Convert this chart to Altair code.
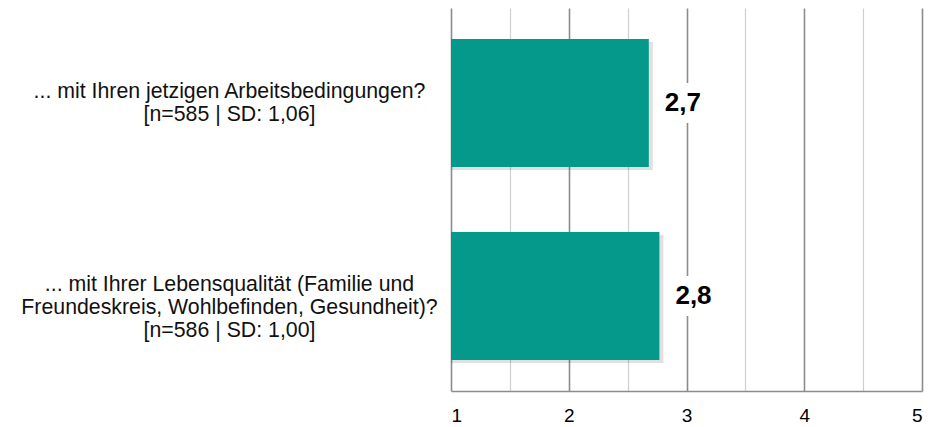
import altair as alt
import pandas as pd

categories = [
    "... mit Ihren jetzigen Arbeitsbedingungen?\n[n=585 | SD: 1,06]",
    "... mit Ihrer Lebensqualität (Familie und\nFreundeskreis, Wohlbefinden, Gesundheit)?\n[n=586 | SD: 1,00]",
]
values = [2.68, 2.77]
value_labels = ["2,7", "2,8"]
x_ticks = [1, 1.5, 2, 2.5, 3, 3.5, 4, 4.5, 5]

df = pd.DataFrame({"cat": categories, "val": values, "lab": value_labels})

FONT = "Liberation Sans"
BAR = "#04998A"

xscale = alt.Scale(domain=[1, 5], zero=False, nice=False)
yscale = alt.Scale(paddingInner=0.337, paddingOuter=0.161)

x_axis = alt.Axis(
    values=x_ticks,
    title=None,
    grid=True,
    gridColor={"condition": {"test": "datum.value % 1 === 0", "value": "#8c8c8c"}, "value": "#cfcfcf"},
    gridWidth={"condition": {"test": "datum.value % 1 === 0", "value": 1.6}, "value": 1.2},
    ticks=False,
    domain=True,
    domainColor="#8c8c8c",
    domainWidth=1.6,
    labelExpr="datum.value % 1 === 0 ? datum.value : ''",
    labelFont=FONT,
    labelFontSize=19,
    labelColor="#000000",
    labelPadding=15,
)
y_axis = alt.Axis(
    title=None,
    domain=False,
    ticks=False,
    tickSize=0,
    grid=False,
    labelExpr="split(datum.value, '\\n')",
    labelAlign="center",
    labelBaseline="middle",
    labelPadding=222,
    labelOffset=-11,
    labelFont=FONT,
    labelFontSize=21.3,
    labelLineHeight=23,
    labelColor="#111111",
    labelLimit=0,
)

base = alt.Chart(df)

shadow = base.mark_bar(color="#000000", opacity=0.12, xOffset=4, yOffset=3).encode(
    x=alt.X("val:Q", scale=xscale, axis=x_axis),
    x2=alt.datum(1),
    y=alt.Y("cat:N", sort=None, scale=yscale, axis=y_axis),
)

bars = base.mark_bar(color=BAR).encode(
    x=alt.X("val:Q", scale=xscale, axis=x_axis),
    x2=alt.datum(1),
    y=alt.Y("cat:N", sort=None, scale=yscale, axis=y_axis),
)

boxes = base.mark_point(shape="square", filled=True, color="white", opacity=1, size=1600, xOffset=34).encode(
    x=alt.X("val:Q", scale=xscale),
    y=alt.Y("cat:N", sort=None, scale=yscale),
)

labels = base.mark_text(
    align="left", baseline="middle", dx=16, font=FONT, fontSize=26, fontWeight="bold", color="#000000"
).encode(
    x=alt.X("val:Q", scale=xscale),
    y=alt.Y("cat:N", sort=None, scale=yscale),
    text="lab:N",
)

chart = (
    alt.layer(shadow, bars, boxes, labels)
    .properties(
        width=471,
        height=383,
        autosize=alt.AutoSizeParams(type="none"),
        padding={"left": 443, "top": 0, "right": 7, "bottom": 36},
    )
    .configure_view(stroke=None)
)

chart.save("out.html", embed_options={"renderer": "svg", "actions": False})
